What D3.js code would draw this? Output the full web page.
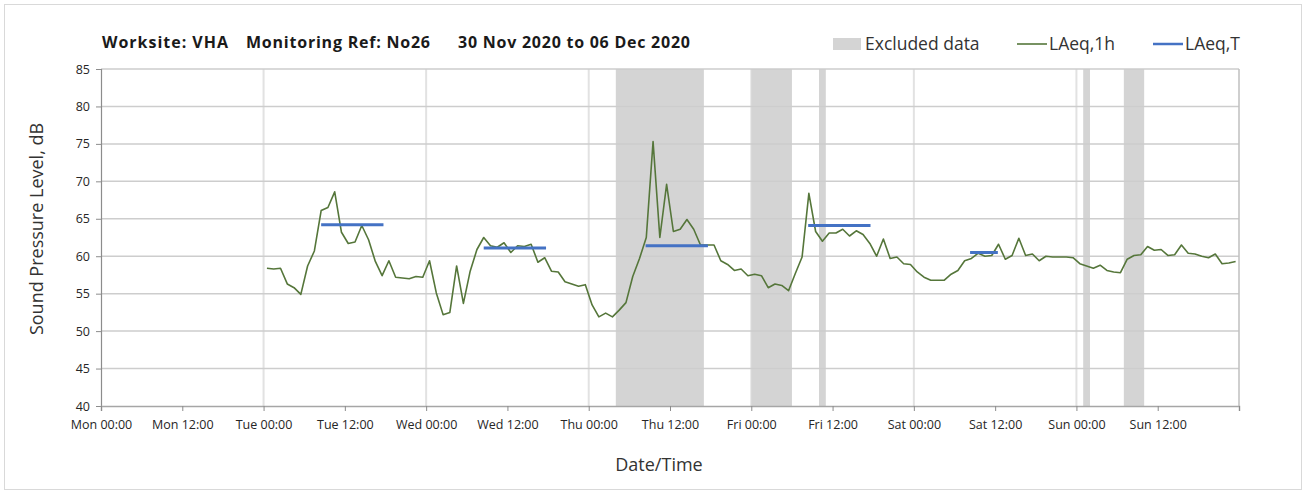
<!DOCTYPE html>
<html>
<head>
<meta charset="utf-8">
<script src="https://cdn.jsdelivr.net/npm/d3@7"></script>
<style>
  html, body { margin: 0; padding: 0; background: #fff; }
  svg { display: block; font-family: "Open Sans", "Lato", sans-serif; }
</style>
</head>
<body>
<svg id="chart" width="1306" height="495"></svg>
<script>
// ---------- DATA ----------
const titleParts = ["Worksite: VHA", "Monitoring Ref: No26", "30 Nov 2020 to 06 Dec 2020"];
const yTicks = [40, 45, 50, 55, 60, 65, 70, 75, 80, 85];
// hours from Mon 30 Nov 2020 00:00
const xTickHours = [0, 12, 24, 36, 48, 60, 72, 84, 96, 108, 120, 132, 144, 156, 168];
const xTickLabels = ["Mon 00:00", "Mon 12:00", "Tue 00:00", "Tue 12:00", "Wed 00:00", "Wed 12:00",
  "Thu 00:00", "Thu 12:00", "Fri 00:00", "Fri 12:00", "Sat 00:00", "Sat 12:00",
  "Sun 00:00", "Sun 12:00", ""];
const dayGridHours = [24, 48, 72, 96, 120, 144];

// LAeq,1h — hourly values, first value centred at Tue 00:30 (hour 24.5)
const seriesStartHour = 24.5;
const laeq1h = [
  58.4, 58.3, 58.4, 56.3, 55.8, 54.9, 58.7, 60.7, 66.1, 66.5, 68.6, 63.2,
  61.7, 61.9, 64.1, 62.2, 59.3, 57.4, 59.4, 57.2, 57.1, 57.0, 57.3, 57.2,
  59.4, 55.1, 52.2, 52.5, 58.7, 53.7, 58.0, 60.9, 62.5, 61.4, 61.2, 61.8,
  60.5, 61.4, 61.3, 61.6, 59.2, 59.8, 58.0, 57.9, 56.6, 56.3, 56.0, 56.2,
  53.5, 51.9, 52.4, 51.9, 52.8, 53.8, 57.3, 59.7, 62.5, 75.3, 62.5, 69.6,
  63.3, 63.6, 64.9, 63.6, 61.5, 61.5, 61.5, 59.4, 58.9, 58.1, 58.3, 57.4,
  57.6, 57.4, 55.8, 56.3, 56.1, 55.4, 57.7, 59.9, 68.4, 63.3, 62.0, 63.1,
  63.1, 63.6, 62.7, 63.4, 62.9, 61.7, 60.0, 62.3, 59.7, 59.9, 59.0, 58.9,
  57.9, 57.2, 56.8, 56.8, 56.8, 57.6, 58.1, 59.4, 59.7, 60.4, 60.0, 60.1,
  61.6, 59.6, 60.1, 62.4, 60.1, 60.3, 59.4, 60.0, 59.9, 59.9, 59.9, 59.8,
  59.0, 58.7, 58.4, 58.8, 58.1, 57.9, 57.8, 59.6, 60.1, 60.2, 61.3, 60.8,
  60.9, 60.1, 60.2, 61.5, 60.4, 60.3, 60.0, 59.8, 60.3, 59.0, 59.1, 59.3
];

// LAeq,T — period levels
const periodStart = [32.5, 56.5, 80.4, 104.4, 128.3];
const periodEnd   = [41.7, 65.7, 89.6, 113.6, 132.4];
const periodValue = [64.2, 61.1, 61.4, 64.1, 60.5];

// Excluded data bands (hours)
const exclStart = [76, 96, 106, 145, 151];
const exclEnd   = [89, 102, 107, 146, 154];

const legendLabels = ["Excluded data", "LAeq,1h", "LAeq,T"];

// ---------- DRAW ----------
const svg = d3.select("#chart");
const W = 1306, H = 495;
const plot = { left: 101, right: 1239, top: 69, bottom: 406 };
const green = "#55763a", blue = "#4472c4", shade = "#d4d4d4";

svg.append("rect").attr("x", 0).attr("y", 0).attr("width", W).attr("height", H).attr("fill", "#fff");
svg.append("rect").attr("x", 4.5).attr("y", 4.5).attr("width", W - 9).attr("height", H - 10)
  .attr("fill", "none").attr("stroke", "#d9d9d9").attr("stroke-width", 1);

const x = d3.scaleLinear().domain([0, 168]).range([plot.left, plot.right]);
const y = d3.scaleLinear().domain([40, 85]).range([plot.bottom, plot.top]);

// vertical day grid lines
svg.append("g").selectAll("line").data(dayGridHours).join("line")
  .attr("x1", d => x(d)).attr("x2", d => x(d))
  .attr("y1", plot.top).attr("y2", plot.bottom)
  .attr("stroke", "#e2e2e2").attr("stroke-width", 2);

// excluded bands
svg.append("g").selectAll("rect").data(exclStart).join("rect")
  .attr("x", (d) => x(d))
  .attr("width", (d, i) => x(exclEnd[i]) - x(d))
  .attr("y", plot.top).attr("height", plot.bottom - plot.top)
  .attr("fill", shade);

// horizontal grid lines
svg.append("g").selectAll("line").data(yTicks.filter(v => v > 40)).join("line")
  .attr("x1", plot.left).attr("x2", plot.right)
  .attr("y1", d => y(d)).attr("y2", d => y(d))
  .attr("stroke", "#cdcdcd").attr("stroke-width", 1.5);

// right border
svg.append("line").attr("x1", plot.right).attr("x2", plot.right)
  .attr("y1", plot.top).attr("y2", plot.bottom)
  .attr("stroke", "#bfbfbf").attr("stroke-width", 1.5);

// Y axis
const yAxis = svg.append("g").attr("transform", `translate(${plot.left},0)`)
  .call(d3.axisLeft(y).tickValues(yTicks).tickSize(5).tickPadding(6).tickFormat(d3.format("d")));
yAxis.select(".domain").attr("stroke", "#8c8c8c").attr("stroke-width", 1.2);
yAxis.selectAll(".tick line").attr("stroke", "#8c8c8c");
yAxis.selectAll("text").attr("font-size", 12.5).attr("fill", "#262626")
  .attr("font-family", "'Open Sans', sans-serif");

// X axis
const xAxis = svg.append("g").attr("transform", `translate(0,${plot.bottom})`)
  .call(d3.axisBottom(x).tickValues(xTickHours).tickSize(5).tickPadding(9)
    .tickFormat((d, i) => xTickLabels[i]));
xAxis.select(".domain").attr("stroke", "#a6a6a6").attr("stroke-width", 1.5);
xAxis.selectAll(".tick line").attr("stroke", "#8c8c8c");
xAxis.selectAll("text").attr("font-size", 12.5).attr("fill", "#262626")
  .attr("font-family", "'Open Sans', sans-serif");

// LAeq,1h line
const line = d3.line()
  .x((d, i) => x(seriesStartHour + i))
  .y(d => y(d));
svg.append("path").datum(laeq1h)
  .attr("d", line).attr("fill", "none")
  .attr("stroke", green).attr("stroke-width", 1.6).attr("stroke-linejoin", "round");

// LAeq,T segments
svg.append("g").selectAll("line").data(periodValue).join("line")
  .attr("x1", (d, i) => x(periodStart[i])).attr("x2", (d, i) => x(periodEnd[i]))
  .attr("y1", d => y(d)).attr("y2", d => y(d))
  .attr("stroke", blue).attr("stroke-width", 3);

// Title
const titleX = [102, 246, 458];
const titleW = [126, 184, 232];
svg.append("g").selectAll("text").data(titleParts).join("text")
  .attr("x", (d, i) => titleX[i]).attr("y", 48)
  .attr("font-size", 16).attr("font-weight", "bold").attr("fill", "#1a1a1a")
  .attr("textLength", (d, i) => titleW[i]).attr("lengthAdjust", "spacing")
  .text(d => d);

// Legend
const lg = svg.append("g").attr("font-size", 17.5).attr("fill", "#333");
lg.append("rect").attr("x", 833).attr("y", 38).attr("width", 28).attr("height", 12).attr("fill", shade);
lg.append("text").attr("x", 865).attr("y", 50).text(legendLabels[0]).attr("fill", "#333");
lg.append("line").attr("x1", 1017).attr("x2", 1047).attr("y1", 44).attr("y2", 44)
  .attr("stroke", green).attr("stroke-width", 1.6);
lg.append("text").attr("x", 1049).attr("y", 50).text(legendLabels[1]).attr("fill", "#333");
lg.append("line").attr("x1", 1153).attr("x2", 1183).attr("y1", 44).attr("y2", 44)
  .attr("stroke", blue).attr("stroke-width", 2.5);
lg.append("text").attr("x", 1185).attr("y", 50).text(legendLabels[2]).attr("fill", "#333");

// Axis titles
svg.append("text").attr("x", 659).attr("y", 471).attr("text-anchor", "middle")
  .attr("font-size", 18).attr("fill", "#333").text("Date/Time");
svg.append("text").attr("transform", "translate(43,229) rotate(-90)")
  .attr("text-anchor", "middle").attr("font-size", 18).attr("fill", "#333")
  .text("Sound Pressure Level, dB");
</script>
</body>
</html>
